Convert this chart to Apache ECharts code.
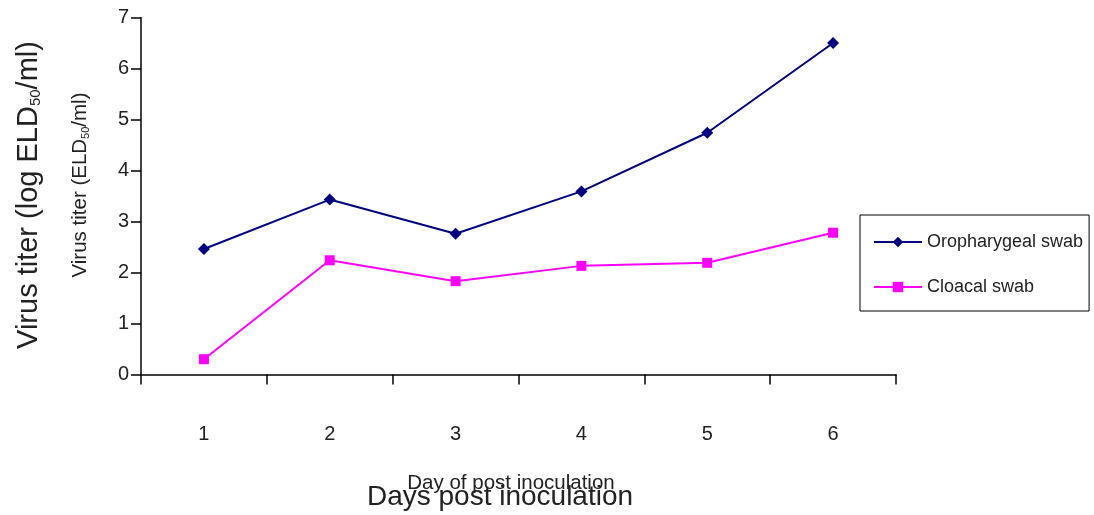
<!DOCTYPE html>
<html>
<head>
<meta charset="utf-8">
<script src="https://cdn.jsdelivr.net/npm/echarts@6/dist/echarts.min.js"></script>
<style>
  html, body { margin: 0; padding: 0; background: #fff; }
  #chart { width: 1094px; height: 515px; }
</style>
</head>
<body>
<div id="chart"></div>
<script>
// Virus titer by day after inoculation
const days = ['1', '2', '3', '4', '5', '6'];
const oropharyngeal = [2.46, 3.43, 2.76, 3.59, 4.74, 6.50];
const cloacal = [0.30, 2.24, 1.83, 2.13, 2.19, 2.78];
const seriesNames = ['Oropharygeal swab', 'Cloacal swab'];
const yTicks = [0, 7, 1]; // min, max, step

const FONT = '"Liberation Sans", Arial, sans-serif';
const chart = echarts.init(document.getElementById('chart'));

chart.setOption({
  backgroundColor: '#ffffff',
  animation: false,
  grid: { left: 141, right: 198, top: 17.5, bottom: 140.5 },
  legend: {
    orient: 'vertical',
    left: 860, top: 215,
    padding: [18, 6, 15, 13],
    itemGap: 27,
    itemWidth: 48, itemHeight: 13,
    borderColor: '#000', borderWidth: 1,
    backgroundColor: '#fff',
    textStyle: { fontFamily: FONT, fontSize: 18, color: '#222' },
    data: seriesNames
  },
  xAxis: {
    type: 'category',
    data: days,
    boundaryGap: true,
    axisLine: { lineStyle: { color: '#000', width: 1.5 } },
    axisTick: { show: true, length: 10, lineStyle: { color: '#000', width: 1.5 } },
    axisLabel: { margin: 50, fontFamily: FONT, fontSize: 20, color: '#222' },
    splitLine: { show: false }
  },
  yAxis: {
    type: 'value',
    min: yTicks[0], max: yTicks[1], interval: yTicks[2],
    axisLine: { show: true, lineStyle: { color: '#000', width: 1.5 } },
    axisTick: { show: true, inside: false, length: 10, lineStyle: { color: '#000', width: 1.5 } },
    axisLabel: { margin: 12, fontFamily: FONT, fontSize: 20, color: '#222' },
    splitLine: { show: false }
  },
  graphic: [
    {
      type: 'text', x: 26, y: 195, rotation: Math.PI / 2,
      style: {
        text: '{a|Virus titer (log ELD}{s|50}{a|/ml)}',
        align: 'center', verticalAlign: 'middle',
        rich: {
          a: { fontFamily: FONT, fontSize: 29, fill: '#222', lineHeight: 34, verticalAlign: 'bottom' },
          s: { fontFamily: FONT, fontSize: 15, fill: '#222', lineHeight: 13, verticalAlign: 'bottom' }
        }
      }
    },
    {
      type: 'text', x: 79, y: 185, rotation: Math.PI / 2,
      style: {
        text: '{a|Virus titer (ELD}{s|50}{a|/ml)}',
        align: 'center', verticalAlign: 'middle',
        rich: {
          a: { fontFamily: FONT, fontSize: 20.5, fill: '#222', lineHeight: 24, verticalAlign: 'bottom' },
          s: { fontFamily: FONT, fontSize: 11, fill: '#222', lineHeight: 9, verticalAlign: 'bottom' }
        }
      }
    },
    {
      type: 'text', x: 511, y: 483,
      style: { text: 'Day of post inoculation', fontFamily: FONT, fontSize: 20.5, fill: '#222', align: 'center', verticalAlign: 'middle' }
    },
    {
      type: 'text', x: 500, y: 497,
      style: { text: 'Days post inoculation', fontFamily: FONT, fontSize: 28, fill: '#222', align: 'center', verticalAlign: 'middle' }
    }
  ],
  series: [
    {
      name: seriesNames[0], type: 'line', data: oropharyngeal,
      symbol: 'diamond', symbolSize: 12,
      itemStyle: { color: '#000080' },
      lineStyle: { color: '#000080', width: 2 }
    },
    {
      name: seriesNames[1], type: 'line', data: cloacal,
      symbol: 'rect', symbolSize: 10,
      itemStyle: { color: '#ff00ff' },
      lineStyle: { color: '#ff00ff', width: 2 }
    }
  ]
});
</script>
</body>
</html>
